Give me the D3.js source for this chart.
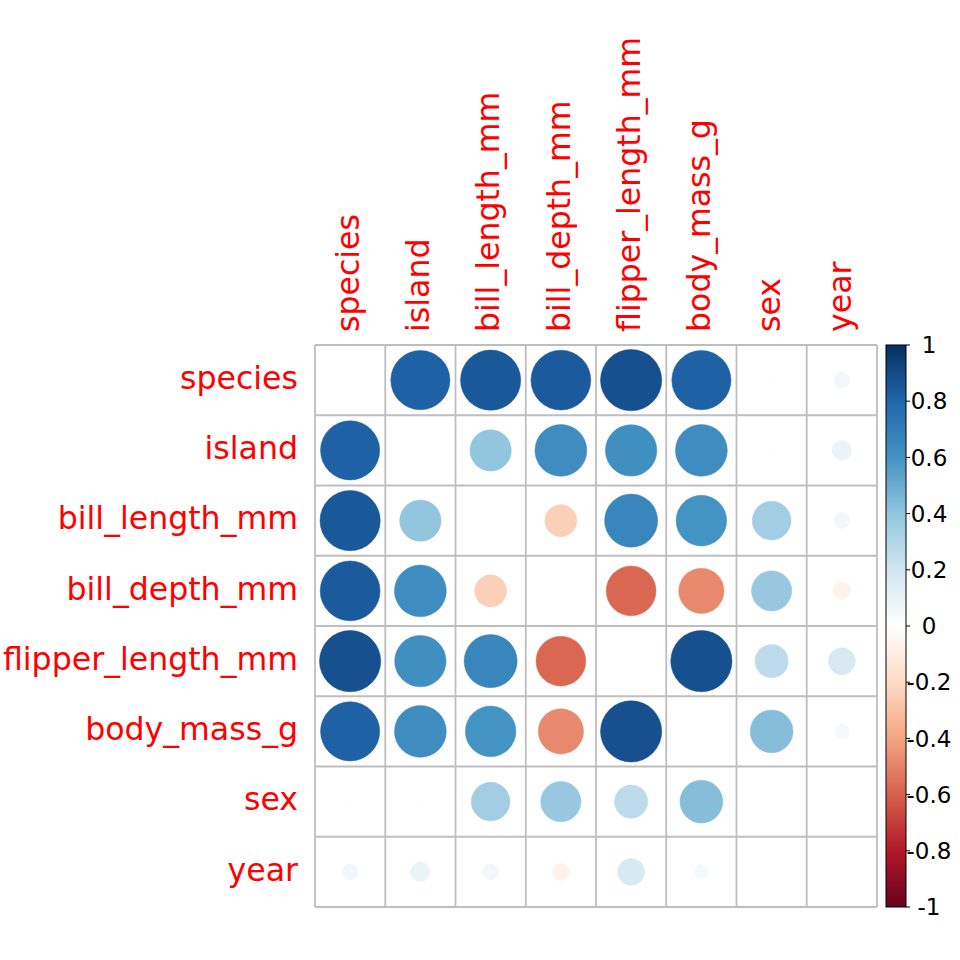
<!DOCTYPE html>
<html>
<head>
<meta charset="utf-8">
<script src="https://cdn.jsdelivr.net/npm/d3@7"></script>
<style>
  html, body { margin: 0; padding: 0; background: #fff; }
  svg { display: block; }
</style>
</head>
<body>
<svg id="chart" width="960" height="960"></svg>
<script>
// ---- data ----
const variables = ["species", "island", "bill_length_mm", "bill_depth_mm",
                   "flipper_length_mm", "body_mass_g", "sex", "year"];
// correlation matrix rows (null = blank cell)
const rowSpecies  = [null, 0.82, 0.85, 0.84, 0.88, 0.82, 0.01, 0.06];
const rowIsland   = [0.82, null, 0.40, 0.63, 0.62, 0.63, 0.01, 0.09];
const rowBillLen  = [0.85, 0.40, null, -0.24, 0.66, 0.60, 0.35, 0.06];
const rowBillDep  = [0.84, 0.63, -0.24, null, -0.58, -0.48, 0.38, -0.07];
const rowFlipper  = [0.88, 0.62, 0.66, -0.58, null, 0.88, 0.26, 0.17];
const rowBodyMass = [0.82, 0.63, 0.60, -0.48, 0.88, null, 0.43, 0.05];
const rowSex      = [0.01, 0.01, 0.35, 0.38, 0.26, 0.43, null, null];
const rowYear     = [0.06, 0.09, 0.06, -0.07, 0.17, 0.05, null, null];
const matrix = [rowSpecies, rowIsland, rowBillLen, rowBillDep, rowFlipper, rowBodyMass, rowSex, rowYear];

const colorbarTicks = [1, 0.8, 0.6, 0.4, 0.2, 0, -0.2, -0.4, -0.6, -0.8, -1];
const colorbarLabels = ["1", "0.8", "0.6", "0.4", "0.2", "0", "-0.2", "-0.4", "-0.6", "-0.8", "-1"];
const paletteRdBu = ["#67001F", "#B2182B", "#D6604D", "#F4A582", "#FDDBC7", "#FFFFFF",
                     "#D1E5F0", "#92C5DE", "#4393C3", "#2166AC", "#053061"];

// ---- layout ----
const svg = d3.select("#chart");
const gx0 = 315, gy0 = 345, gx1 = 877, gy1 = 907;
const x = d3.scaleBand().domain(variables).range([gx0, gx1]);
const y = d3.scaleBand().domain(variables).range([gy0, gy1]);
const cell = x.bandwidth();

const color = d3.scaleLinear()
  .domain(d3.range(paletteRdBu.length).map(i => -1 + 2 * i / (paletteRdBu.length - 1)))
  .range(paletteRdBu)
  .interpolate(d3.interpolateRgb);
const rScale = d3.scaleSqrt().domain([0, 1]).range([0, 0.465 * cell]);

const cells = [];
matrix.forEach((row, i) => row.forEach((v, j) => cells.push({row: variables[i], col: variables[j], v})));

// grid
const grid = svg.append("g");
variables.forEach(v => {
  grid.append("line").attr("x1", x(v)).attr("x2", x(v)).attr("y1", gy0).attr("y2", gy1);
  grid.append("line").attr("y1", y(v)).attr("y2", y(v)).attr("x1", gx0).attr("x2", gx1);
});
grid.append("line").attr("x1", gx1).attr("x2", gx1).attr("y1", gy0).attr("y2", gy1);
grid.append("line").attr("y1", gy1).attr("y2", gy1).attr("x1", gx0).attr("x2", gx1);
grid.selectAll("line").attr("stroke", "#BEBEBE").attr("stroke-width", 1.8);

// circles
svg.append("g").selectAll("circle")
  .data(cells.filter(d => d.v !== null))
  .join("circle")
  .attr("cx", d => x(d.col) + cell / 2)
  .attr("cy", d => y(d.row) + cell / 2)
  .attr("r", d => rScale(Math.abs(d.v)))
  .attr("fill", d => color(d.v))
  .attr("stroke", d => color(d.v))
  .attr("stroke-width", 0.5);

const fontFam = "'DejaVu Sans', sans-serif";
// row labels
svg.append("g").selectAll("text")
  .data(variables).join("text")
  .attr("x", 298)
  .attr("y", d => y(d) + cell / 2)
  .attr("dy", "0.28em")
  .attr("text-anchor", "end")
  .attr("font-family", fontFam)
  .attr("font-size", 31.6)
  .attr("fill", "#FF0000")
  .text(d => d);

// column labels
svg.append("g").selectAll("text")
  .data(variables).join("text")
  .attr("transform", d => `translate(${x(d) + cell / 2},332) rotate(-90)`)
  .attr("dy", "0.28em")
  .attr("text-anchor", "start")
  .attr("font-family", fontFam)
  .attr("font-size", 31.6)
  .attr("fill", "#FF0000")
  .text(d => d);

// color bar
const cbx0 = 886, cbw = 20;
const cbY = d3.scaleLinear().domain([1, -1]).range([gy0, gy1]);
const defs = svg.append("defs");
const grad = defs.append("linearGradient").attr("id", "cbgrad")
  .attr("x1", 0).attr("y1", 1).attr("x2", 0).attr("y2", 0);
paletteRdBu.forEach((c, i) => {
  grad.append("stop").attr("offset", i / (paletteRdBu.length - 1)).attr("stop-color", c);
});
svg.append("rect")
  .attr("x", cbx0).attr("y", cbY(1))
  .attr("width", cbw).attr("height", cbY(-1) - cbY(1))
  .attr("fill", "url(#cbgrad)")
  .attr("stroke", "#000").attr("stroke-width", 1);

const cbAxis = svg.append("g");
cbAxis.selectAll("line").data(colorbarTicks).join("line")
  .attr("x1", cbx0 + cbw).attr("x2", cbx0 + cbw + 4)
  .attr("y1", d => cbY(d)).attr("y2", d => cbY(d))
  .attr("stroke", "#000").attr("stroke-width", 1);
cbAxis.selectAll("text").data(colorbarTicks).join("text")
  .attr("x", 929)
  .attr("y", d => cbY(d))
  .attr("dy", "0.36em")
  .attr("text-anchor", "middle")
  .attr("font-family", fontFam)
  .attr("font-size", 23)
  .attr("fill", "#000")
  .text((d, i) => colorbarLabels[i]);
</script>
</body>
</html>
